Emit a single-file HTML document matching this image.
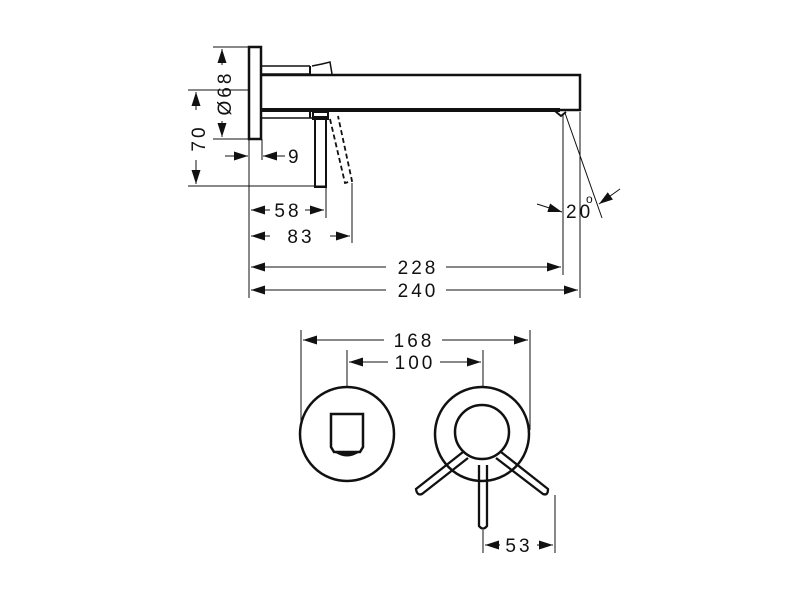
<!DOCTYPE html>
<html><head><style>html,body{margin:0;background:#fff}svg{display:block}text{font-family:"Liberation Sans",sans-serif;font-size:19px;fill:#111;letter-spacing:3px}</style></head><body>
<svg width="800" height="600" viewBox="0 0 800 600" xmlns="http://www.w3.org/2000/svg">
<defs>
<marker id="a" viewBox="0 0 14 9" refX="14" refY="4.5" markerWidth="14" markerHeight="9" orient="auto-start-reverse" markerUnits="userSpaceOnUse"><path d="M0,0 L14,4.5 L0,9 Z" fill="#111"/></marker>
</defs>
<g stroke="#111" fill="none">
<rect x="249" y="47" width="12" height="92" stroke-width="2.5"/>
<path d="M262 66 H310 M262 74 H310 M262 110 H312 M262 118 H312" stroke-width="1.5"/>
<path d="M310 66 V74 M310 110 V118" stroke-width="2"/>
<path d="M312 66 L322 64 L330 62 L332 74" stroke-width="1.5"/>
<path d="M261 75 H580 V110 H261" stroke-width="2.5"/>
<line x1="261" y1="110" x2="560" y2="110" stroke-width="4"/>
<path d="M555 111 L561 116 L566 112" stroke-width="2"/>
<rect x="315" y="117" width="11" height="70" stroke-width="2"/>
<rect x="313" y="112" width="15" height="7" stroke-width="2"/>
<path d="M330 119 L345 183 L352 181 L338 116" stroke-width="1.8" stroke-dasharray="5,3"/>
<g stroke-width="1">
<path d="M213 47 H249 M213 139 H249 M188 90 H249 M188 186 H326"/>
<line x1="222" y1="49" x2="222" y2="65" marker-start="url(#a)"/>
<line x1="222" y1="121" x2="222" y2="137" marker-end="url(#a)"/>
<line x1="196" y1="92" x2="196" y2="110" marker-start="url(#a)"/>
<line x1="196" y1="160" x2="196" y2="184" marker-end="url(#a)"/>
<line x1="225" y1="156" x2="248" y2="156" marker-end="url(#a)"/>
<line x1="285" y1="156" x2="263" y2="156" marker-end="url(#a)"/>
<path d="M249 139 V298 M262 139 V160 M326 188 V218 M352 183 V243 M563 115 V275 M580 112 V298 M565 113 L602 218"/>
<line x1="270" y1="210" x2="251" y2="210" marker-end="url(#a)"/>
<line x1="305" y1="210" x2="324" y2="210" marker-end="url(#a)"/>
<line x1="270" y1="236" x2="251" y2="236" marker-end="url(#a)"/>
<line x1="330" y1="236" x2="350" y2="236" marker-end="url(#a)"/>
<line x1="386" y1="267" x2="251" y2="267" marker-end="url(#a)"/>
<line x1="446" y1="267" x2="561" y2="267" marker-end="url(#a)"/>
<line x1="386" y1="290" x2="251" y2="290" marker-end="url(#a)"/>
<line x1="446" y1="290" x2="578" y2="290" marker-end="url(#a)"/>
<line x1="537" y1="204" x2="562" y2="212" marker-end="url(#a)"/>
<line x1="620" y1="189" x2="599" y2="204" marker-end="url(#a)"/>
</g>
<circle cx="347" cy="434" r="47" stroke-width="2.5"/>
<path d="M331 414 H363 V447 L360 452 H334 L331 447 Z" stroke-width="2.5"/>
<path d="M335 452 Q347 460 359 452 Z" fill="#111"/>
<circle cx="482" cy="434" r="47" stroke-width="2.5"/>
<circle cx="482" cy="432" r="27" stroke-width="2.5"/>
<path d="M479 465 V526 Q483 531 487 526 V465" stroke-width="2.3"/>
<path d="M463 452 L416 489 Q417 496 422 494 L468 458" stroke-width="2.3"/>
<path d="M501 452 L548 489 Q548 496 543 494 L496 458" stroke-width="2.3"/>
<g stroke-width="1">
<path d="M301 330 V430 M530 330 V430 M347 350 V387 M483 350 V387 M483 530 V553 M555 495 V553"/>
<line x1="384" y1="340" x2="303" y2="340" marker-end="url(#a)"/>
<line x1="442" y1="340" x2="528" y2="340" marker-end="url(#a)"/>
<line x1="388" y1="362" x2="349" y2="362" marker-end="url(#a)"/>
<line x1="440" y1="362" x2="481" y2="362" marker-end="url(#a)"/>
<line x1="500" y1="545" x2="485" y2="545" marker-end="url(#a)"/>
<line x1="537" y1="545" x2="553" y2="545" marker-end="url(#a)"/>
</g>
</g>
<text x="231" y="93" transform="rotate(-90 231 93)" text-anchor="middle">Ø68</text>
<text x="205" y="138" transform="rotate(-90 205 138)" text-anchor="middle">70</text>
<text x="288" y="163">9</text>
<text x="288" y="217" text-anchor="middle">58</text>
<text x="301" y="243" text-anchor="middle">83</text>
<text x="418" y="274" text-anchor="middle">228</text>
<text x="418" y="297" text-anchor="middle">240</text>
<text x="566" y="218">20</text>
<text x="586" y="203" style="font-size:12px">o</text>
<text x="414" y="347" text-anchor="middle">168</text>
<text x="415" y="369" text-anchor="middle">100</text>
<text x="519" y="552" text-anchor="middle">53</text>
</svg>
</body></html>
